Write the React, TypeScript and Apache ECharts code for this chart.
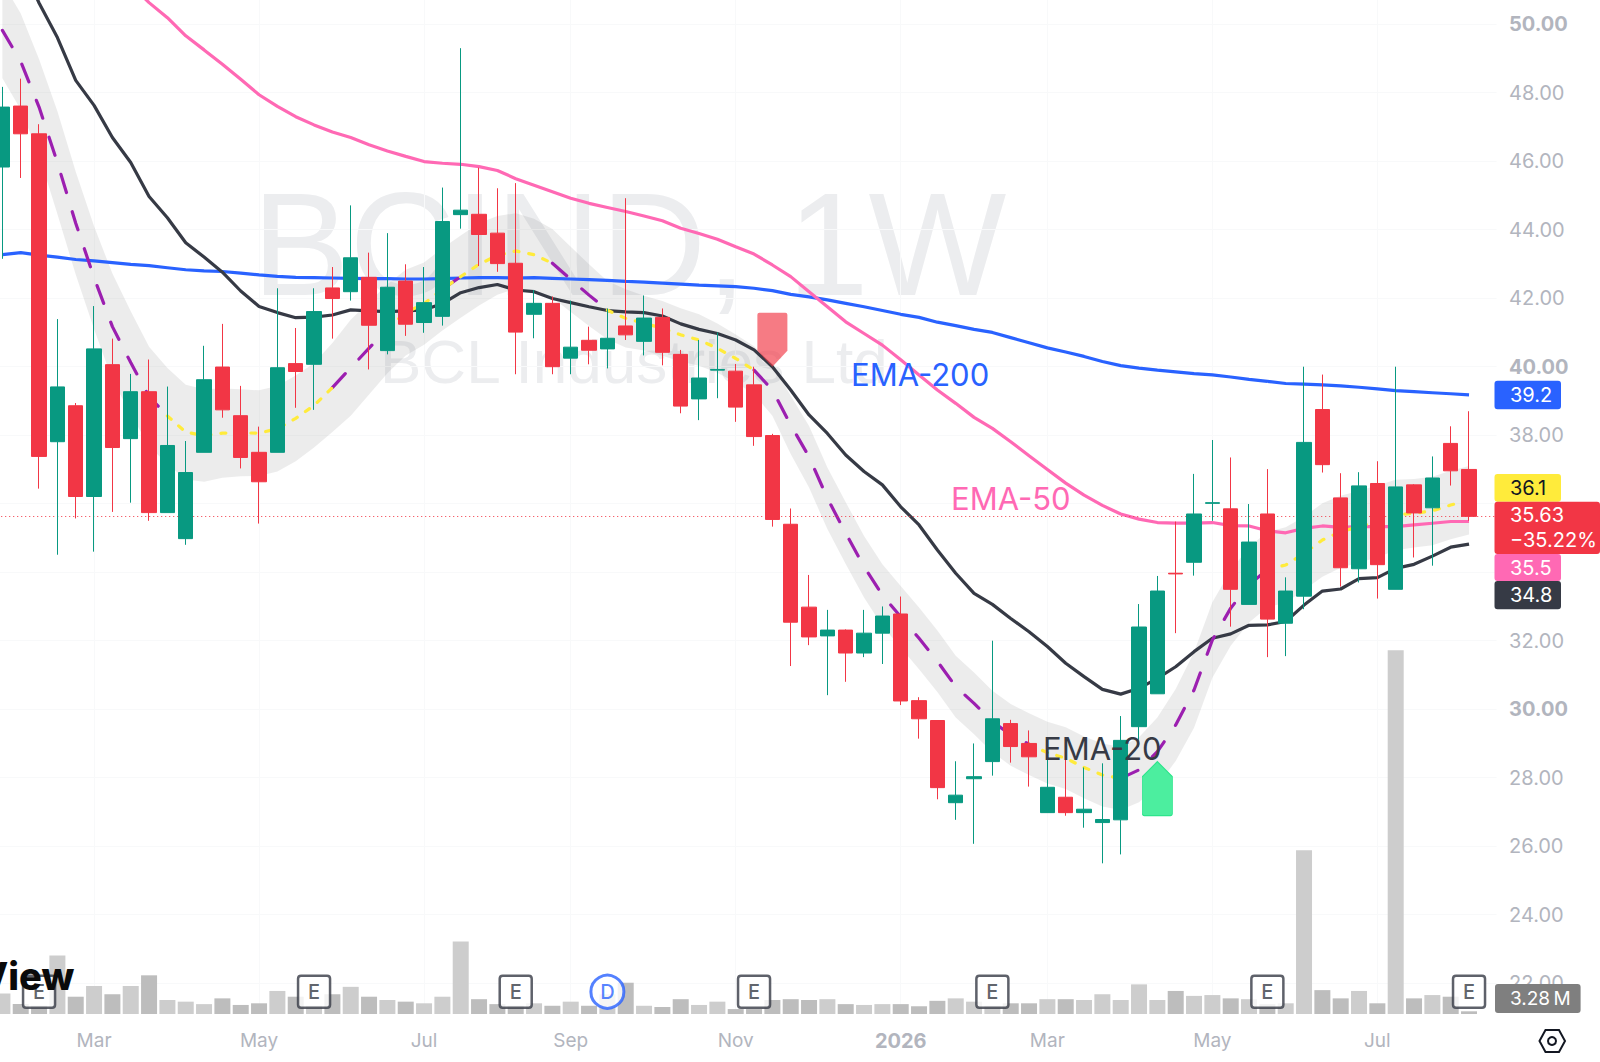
import { useEffect, useRef } from 'react';
import * as echarts from 'echarts';

// weekly candles
const opens = [45.83, 47.61, 46.80, 37.81, 38.86, 36.21, 40.06, 37.90, 39.27, 35.74, 34.98, 37.50, 39.99, 38.57, 37.50, 37.50, 40.09, 40.07, 42.30, 42.19, 42.61, 40.47, 42.50, 41.29, 41.47, 44.44, 44.45, 43.90, 43.02, 41.53, 41.85, 40.25, 40.77, 40.52, 41.19, 40.74, 41.44, 40.36, 39.06, 39.90, 39.87, 39.47, 37.99, 35.40, 32.98, 32.14, 32.31, 31.64, 32.22, 32.78, 30.25, 29.67, 27.27, 27.97, 28.47, 29.58, 29.00, 26.98, 27.43, 26.98, 26.69, 26.77, 29.49, 30.45, 33.97, 34.29, 36.01, 35.85, 33.06, 35.70, 32.51, 33.30, 38.75, 36.17, 34.10, 36.59, 33.50, 36.55, 35.88, 37.76, 37.00];
const closes = [47.58, 46.80, 37.38, 39.41, 36.21, 40.52, 37.64, 39.27, 35.74, 37.70, 36.91, 39.62, 38.74, 37.35, 36.64, 39.97, 39.86, 41.61, 41.99, 43.18, 41.21, 42.32, 41.24, 41.87, 44.24, 44.57, 43.86, 43.01, 41.01, 41.85, 40.00, 40.57, 40.48, 40.83, 40.93, 41.42, 40.42, 38.85, 39.67, 39.92, 38.82, 37.96, 35.54, 32.54, 32.11, 32.31, 31.64, 32.22, 32.72, 30.24, 29.72, 27.71, 27.49, 28.03, 29.72, 28.91, 28.61, 27.72, 26.98, 27.08, 26.78, 29.09, 32.40, 33.45, 33.95, 35.70, 36.03, 33.50, 34.88, 32.63, 33.45, 37.79, 37.14, 34.13, 36.52, 34.22, 36.49, 35.73, 36.75, 36.96, 35.63];
const lows = [43.15, 45.51, 36.44, 34.51, 35.57, 34.60, 35.76, 36.03, 35.50, 35.74, 34.80, 37.50, 38.51, 37.03, 35.42, 37.50, 38.80, 38.74, 40.82, 41.93, 39.92, 40.36, 40.90, 40.99, 41.20, 44.03, 42.94, 42.77, 39.78, 40.83, 39.78, 39.78, 40.07, 39.95, 40.78, 40.33, 40.04, 38.64, 38.44, 39.08, 38.39, 37.69, 35.33, 31.26, 31.87, 30.41, 30.80, 31.52, 31.32, 30.12, 29.14, 27.37, 26.77, 26.07, 28.06, 28.44, 27.74, 26.98, 26.89, 26.54, 25.50, 25.76, 28.90, 30.45, 32.22, 33.90, 35.50, 32.41, 33.06, 31.52, 31.55, 32.92, 36.91, 33.58, 33.70, 33.23, 33.50, 34.43, 34.19, 36.53, 35.50];
const highs = [48.17, 48.41, 47.08, 41.39, 38.94, 41.77, 40.82, 39.79, 40.21, 39.42, 37.83, 40.61, 41.25, 39.44, 38.25, 42.29, 41.13, 42.29, 42.91, 44.71, 43.33, 43.90, 42.99, 42.91, 45.23, 49.30, 45.81, 45.21, 45.36, 42.24, 42.05, 41.93, 41.17, 41.70, 44.92, 42.08, 41.70, 40.49, 40.78, 41.00, 40.08, 40.00, 38.04, 35.86, 33.92, 32.90, 32.33, 32.90, 33.00, 33.29, 30.35, 29.67, 28.48, 29.00, 32.00, 29.69, 29.38, 28.96, 28.81, 28.30, 28.42, 29.80, 33.07, 33.89, 35.48, 36.87, 37.86, 37.35, 35.99, 37.01, 33.85, 40.00, 39.77, 36.89, 36.92, 37.24, 40.00, 36.57, 37.38, 38.26, 38.70];

// volume in millions
const volumes = [25, 12, 10, 71, 21, 34, 24, 34, 47, 17, 15, 12, 19, 11, 13, 28, 21, 10, 24, 33, 21, 17, 15, 13, 21, 88, 18, 12, 10, 13, 10, 15, 10, 24, 38, 10, 8.5, 18, 11, 15, 6, 6, 17, 18, 17, 18, 12, 11, 12, 12, 9.4, 16, 19, 15, 10, 13, 13, 18, 18, 17, 24, 17, 36, 17, 28, 22, 23, 19, 18, 12, 13, 199, 29, 19, 28, 13, 442, 19, 23, 21, 3.28];

const ema200 = [43.27, 43.33, 43.26, 43.2, 43.13, 43.09, 43.04, 42.99, 42.95, 42.89, 42.83, 42.80, 42.78, 42.73, 42.68, 42.64, 42.61, 42.60, 42.59, 42.58, 42.57, 42.57, 42.56, 42.56, 42.57, 42.59, 42.60, 42.60, 42.59, 42.60, 42.58, 42.56, 42.54, 42.52, 42.49, 42.47, 42.44, 42.41, 42.38, 42.36, 42.34, 42.29, 42.22, 42.11, 42.04, 41.95, 41.85, 41.75, 41.64, 41.53, 41.44, 41.30, 41.20, 41.09, 41.00, 40.85, 40.70, 40.55, 40.43, 40.30, 40.15, 40.03, 39.96, 39.90, 39.85, 39.80, 39.76, 39.70, 39.63, 39.57, 39.51, 39.49, 39.47, 39.44, 39.40, 39.35, 39.30, 39.27, 39.24, 39.21, 39.18];
const ema50 = [55.0, 54.5, 54.0, 53.5, 53.0, 52.4, 51.8, 51.15, 50.63, 50.19, 49.66, 49.25, 48.83, 48.39, 47.94, 47.6, 47.3, 47.06, 46.85, 46.69, 46.48, 46.3, 46.14, 45.99, 45.94, 45.91, 45.84, 45.73, 45.49, 45.3, 45.11, 44.92, 44.77, 44.65, 44.53, 44.4, 44.26, 44.04, 43.89, 43.72, 43.5, 43.29, 42.97, 42.63, 42.19, 41.75, 41.31, 40.97, 40.63, 40.2, 39.76, 39.32, 38.93, 38.52, 38.2, 37.81, 37.4, 37.0, 36.6, 36.25, 35.95, 35.7, 35.55, 35.45, 35.43, 35.43, 35.45, 35.36, 35.35, 35.21, 35.15, 35.28, 35.35, 35.31, 35.33, 35.33, 35.33, 35.38, 35.43, 35.48, 35.48];
const ema20 = [53.0, 51.8, 50.62, 49.61, 48.36, 47.63, 46.69, 45.96, 44.97, 44.35, 43.62, 43.2, 42.76, 42.21, 41.76, 41.58, 41.43, 41.45, 41.51, 41.66, 41.63, 41.61, 41.63, 41.66, 41.84, 42.16, 42.31, 42.4, 42.24, 42.19, 41.99, 41.87, 41.75, 41.64, 41.6, 41.58, 41.48, 41.25, 41.09, 40.97, 40.78, 40.49, 40.0, 39.32, 38.59, 38.05, 37.42, 36.94, 36.55, 35.91, 35.38, 34.65, 33.97, 33.38, 33.06, 32.65, 32.26, 31.83, 31.34, 30.95, 30.58, 30.44, 30.61, 30.9, 31.24, 31.68, 32.07, 32.2, 32.45, 32.46, 32.56, 33.04, 33.45, 33.51, 33.81, 33.84, 34.11, 34.23, 34.47, 34.73, 34.82];
const ema10 = [49.82, 48.91, 47.58, 45.96, 44.19, 42.6, 41.17, 40.12, 39.13, 38.56, 38.09, 37.99, 38.06, 38.07, 38.06, 38.19, 38.49, 38.87, 39.39, 39.97, 40.54, 41.11, 41.58, 41.84, 42.26, 42.63, 42.99, 43.25, 43.38, 43.27, 43.02, 42.55, 42.09, 41.65, 41.41, 41.27, 41.12, 40.93, 40.78, 40.54, 40.24, 39.9, 39.32, 38.3, 37.37, 36.16, 35.14, 34.16, 33.33, 32.7, 32.07, 31.4, 30.66, 30.17, 29.64, 29.25, 28.98, 28.73, 28.57, 28.3, 28.08, 27.98, 28.23, 28.76, 29.54, 30.56, 32.02, 32.95, 33.63, 34.08, 34.21, 34.55, 34.94, 35.18, 35.33, 35.48, 35.67, 35.72, 35.79, 35.96, 36.1];
// half height of the grey band round the short EMA
const bandHalf = [1.4, 1.4, 1.4, 1.5, 1.5, 1.5, 1.55, 1.5, 1.45, 1.4, 1.38, 1.35, 1.3, 1.27, 1.25, 1.25, 1.25, 1.23, 1.3, 1.4, 1.35, 1.3, 1.25, 1.2, 1.2, 1.2, 1.2, 1.15, 1.1, 1.05, 1.0, 0.95, 0.9, 0.85, 0.85, 0.8, 0.8, 0.78, 0.75, 0.72, 0.7, 0.7, 0.75, 0.85, 0.9, 0.9, 0.9, 0.9, 0.9, 0.9, 0.9, 0.9, 0.9, 0.9, 0.9, 0.9, 0.9, 0.9, 0.9, 0.9, 0.92, 0.92, 0.95, 1.0, 1.05, 1.1, 1.1, 1.1, 1.1, 1.1, 1.1, 1.07, 1.07, 1.05, 1.05, 1.05, 1.03, 1.0, 1.0, 1.0, 1.0];

// bar ranges where the short EMA is drawn purple, yellow everywhere else
const purpleRanges = [[0, 9], [18, 21], [24, 25], [30, 33], [41, 56], [61, 69]];
const yellowRanges = [[9, 18], [21, 24], [25, 30], [33, 41], [56, 61], [69, 80]];

const monthTicks: [number, string][] = [[5, 'Mar'], [14, 'May'], [23, 'Jul'], [31, 'Sep'], [40, 'Nov'], [49, '2026'], [57, 'Mar'], [66, 'May'], [75, 'Jul']];
const earningsBars = [2, 17, 28, 41, 54, 69, 80];
const dividendBars = [33];
const sellSignals = [[42, 40.0]];
const buySignals = [[63, 28.47]];
const lastPrice = 35.63;
const hiddenPriceTicks = [20, 34, 36, 52]; // sit behind the tags or off the page

const RED = '#f23645';
const GREEN = '#089981';
const BLUE = '#2962ff';
const PINK = '#ff69b4';
const DARK = '#363a45';
const YELLOW = '#ffeb3b';
const GREY_TEXT = '#b2b5be';
const FONT = 'Inter, "Noto Sans", sans-serif';

const BAR_COUNT = 82;
const categories = Array.from({ length: BAR_COUNT }, (_, i) => {
    const tick = monthTicks.find(t => t[0] === i);
    return tick ? tick[1] : '';
});

function pickRanges(values: number[], ranges: number[][]) {
    return values.map((v, i) => (ranges.some(r => i >= r[0] && i <= r[1]) ? v : null));
}

// small tag on the price scale
function tag(y: number, h: number, right: number, color: string, text: string, textColor = '#fff', lineHeight = 0) {
    return [
        { type: 'rect', z: 50, shape: { x: 1494.5, y, width: right - 1494.5, height: h, r: 3 }, style: { fill: color } },
        {
            type: 'text',
            z: 51,
            x: 1510,
            y: y + h / 2,
            style: { text, fill: textColor, font: `400 20px ${FONT}`, textVerticalAlign: 'middle', lineHeight: lineHeight || undefined },
        },
    ];
}

export default function App() {
    const chartRef = useRef<HTMLDivElement>(null);

    useEffect(() => {
        document.body.style.margin = '0';
        if (!chartRef.current) return;
        const chart = echarts.init(chartRef.current, undefined, { renderer: 'svg' });
        const isTick = (i: number) => monthTicks.some(t => t[0] === i);

        const option = {
            animation: false,
            backgroundColor: '#ffffff',
            grid: [
                // price pane runs 20..52 so the ticks stay on multiples of 2
                { left: -6.77, top: -44.3, width: 1503.3, height: 1096, outerBoundsMode: 'none' },
                { left: -6.77, top: 0, width: 1503.3, height: 1014, outerBoundsMode: 'none' },
            ],
            xAxis: [
                { type: 'category', data: categories, gridIndex: 0, show: false },
                {
                    type: 'category',
                    data: categories,
                    gridIndex: 1,
                    axisLine: { show: false },
                    axisTick: { show: false },
                    splitLine: { show: true, alignWithLabel: true, interval: isTick, lineStyle: { color: '#f8f9fa', width: 1 } },
                    axisLabel: {
                        interval: 0,
                        margin: 17,
                        fontFamily: FONT,
                        fontSize: 19,
                        color: GREY_TEXT,
                        formatter: (v: string) => (v === '2026' ? `{b|${v}}` : v),
                        rich: { b: { fontFamily: FONT, fontSize: 20, fontWeight: 700, color: GREY_TEXT } },
                    },
                },
            ],
            yAxis: [
                {
                    type: 'value',
                    gridIndex: 0,
                    position: 'right',
                    min: 20,
                    max: 52,
                    interval: 2,
                    axisLine: { show: false },
                    axisTick: { show: false },
                    splitLine: { show: true, showMinLine: false, lineStyle: { color: '#f8f9fa', width: 1 } },
                    axisLabel: {
                        margin: 12.5,
                        align: 'left',
                        fontFamily: FONT,
                        fontSize: 20,
                        color: GREY_TEXT,
                        formatter: (v: number) => {
                            if (hiddenPriceTicks.includes(v)) return '';
                            return v % 10 === 0 ? `{b|${v.toFixed(2)}}` : v.toFixed(2);
                        },
                        rich: { b: { fontFamily: FONT, fontSize: 20, fontWeight: 700, color: GREY_TEXT } },
                    },
                },
                { type: 'value', gridIndex: 1, min: 0, max: 1232, show: false, splitLine: { show: false } },
            ],
            series: [
                {
                    type: 'bar',
                    xAxisIndex: 1,
                    yAxisIndex: 1,
                    z: 1,
                    barWidth: 16,
                    data: volumes.map((v, i) => ({
                        value: v,
                        itemStyle: { color: closes[i] >= opens[i] ? '#cdcdcd' : '#bdbdbd' },
                    })),
                },
                {
                    type: 'line',
                    stack: 'band',
                    z: 2,
                    symbol: 'none',
                    lineStyle: { opacity: 0, width: 0 },
                    data: ema10.map((v, i) => v - bandHalf[i]),
                },
                {
                    type: 'line',
                    stack: 'band',
                    z: 2,
                    symbol: 'none',
                    lineStyle: { opacity: 0, width: 0 },
                    areaStyle: { color: 'rgba(128,128,128,0.15)', opacity: 1 },
                    data: bandHalf.map(v => v * 2),
                },
                { type: 'line', z: 3, symbol: 'none', lineStyle: { color: BLUE, width: 3.2 }, data: ema200 },
                { type: 'line', z: 3, symbol: 'none', lineStyle: { color: PINK, width: 3.2 }, data: ema50 },
                { type: 'line', z: 3, symbol: 'none', lineStyle: { color: DARK, width: 3.2 }, data: ema20 },
                {
                    type: 'line',
                    z: 3,
                    symbol: 'none',
                    lineStyle: { color: '#9c1fb0', width: 3.2, type: [19, 20], cap: 'round' },
                    data: pickRanges(ema10, purpleRanges),
                },
                {
                    type: 'line',
                    z: 3,
                    symbol: 'none',
                    lineStyle: { color: YELLOW, width: 3.2, type: [5, 10], cap: 'round' },
                    data: pickRanges(ema10, yellowRanges),
                },
                {
                    type: 'scatter',
                    xAxisIndex: 1,
                    yAxisIndex: 1,
                    z: 4,
                    symbol: 'path://M3 0 L29 0 Q32 0 32 3 L32 29 Q32 32 29 32 L3 32 Q0 32 0 29 L0 3 Q0 0 3 0 Z',
                    symbolSize: 32,
                    itemStyle: { color: '#ffffff', borderColor: DARK, borderWidth: 2.5 },
                    label: { show: true, position: 'inside', formatter: 'E', fontFamily: FONT, fontSize: 20, fontWeight: 500, color: DARK },
                    data: earningsBars.map(i => [i, 27]),
                },
                {
                    type: 'scatter',
                    xAxisIndex: 1,
                    yAxisIndex: 1,
                    z: 4,
                    symbol: 'circle',
                    symbolSize: 33,
                    itemStyle: { color: '#ffffff', borderColor: BLUE, borderWidth: 3 },
                    label: { show: true, position: 'inside', formatter: 'D', fontFamily: FONT, fontSize: 20, fontWeight: 500, color: BLUE },
                    data: dividendBars.map(i => [i, 27]),
                },
                {
                    type: 'candlestick',
                    z: 5,
                    barWidth: 15,
                    itemStyle: { color: GREEN, color0: RED, borderColor: GREEN, borderColor0: RED, borderWidth: 1 },
                    data: opens.map((o, i) => [o, closes[i], lows[i], highs[i]]),
                    markLine: {
                        silent: true,
                        symbol: 'none',
                        label: { show: false },
                        lineStyle: { color: RED, width: 1, type: [1, 3] },
                        data: [{ yAxis: lastPrice }],
                    },
                },
                {
                    type: 'scatter',
                    z: 6,
                    symbol: 'path://M2 0 L28 0 Q30 0 30 2 L30 38 L15 54 L0 38 L0 2 Q0 0 2 0 Z',
                    symbolSize: [30, 54],
                    symbolOffset: [0, -27],
                    itemStyle: { color: 'rgba(242,54,69,0.66)', opacity: 1 },
                    data: sellSignals,
                },
                {
                    type: 'scatter',
                    z: 6,
                    symbol: 'path://M15 0 L30 15 L30 52 Q30 54 28 54 L2 54 Q0 54 0 52 L0 15 Z',
                    symbolSize: [30, 54],
                    symbolOffset: [0, 27],
                    itemStyle: { color: '#4cee9f', borderColor: '#2ee58c', borderWidth: 1, opacity: 1 },
                    data: buySignals,
                },
            ],
            graphic: [
                { type: 'text', z: 0, x: 252, y: 244, style: { text: 'BCIND, 1W', fill: '#ecedef', font: `400 146px "Liberation Sans", sans-serif`, textVerticalAlign: 'middle' } },
                { type: 'text', z: 0, x: 380, y: 361, style: { text: 'BCL Industries Ltd', fill: '#ecedef', font: `400 62px "Liberation Sans", sans-serif`, textVerticalAlign: 'middle' } },
                { type: 'text', z: 40, x: 851, y: 374.5, style: { text: 'EMA-200', fill: BLUE, font: `400 31px ${FONT}`, textVerticalAlign: 'middle' } },
                { type: 'text', z: 40, x: 951, y: 498, style: { text: 'EMA-50', fill: PINK, font: `400 31px ${FONT}`, textVerticalAlign: 'middle' } },
                { type: 'text', z: 40, x: 1043, y: 748, style: { text: 'EMA-20', fill: DARK, font: `400 31px ${FONT}`, textVerticalAlign: 'middle' } },
                { type: 'text', z: 40, x: -21, y: 976, style: { text: 'View', fill: '#0a0a0a', font: `800 38px ${FONT}`, textVerticalAlign: 'middle' } },
                ...tag(380.7, 28.6, 1561, BLUE, '39.2'),
                ...tag(474, 27.7, 1561, YELLOW, '36.1', '#131722'),
                ...tag(501.7, 52.3, 1600, RED, '35.63\n\u221235.22%', '#fff', 25),
                ...tag(554, 27, 1561, PINK, '35.5'),
                ...tag(581, 28.3, 1561, DARK, '34.8'),
                { type: 'rect', z: 50, shape: { x: 1495, y: 984, width: 85.6, height: 29, r: 3 }, style: { fill: '#7f7f7f' } },
                { type: 'text', z: 51, x: 1510, y: 998.5, style: { text: '3.28\u2009M', fill: '#fff', font: `400 19px ${FONT}`, textVerticalAlign: 'middle' } },
                {
                    type: 'polygon',
                    z: 50,
                    shape: { points: [[1539.5, 1041], [1545.5, 1030], [1559, 1030], [1565, 1041], [1559, 1052], [1545.5, 1052]] },
                    style: { fill: '#ffffff', stroke: '#131722', lineWidth: 2 },
                },
                { type: 'circle', z: 51, shape: { cx: 1552, cy: 1041, r: 4 }, style: { fill: '#ffffff', stroke: '#131722', lineWidth: 2 } },
            ],
        };
        chart.setOption(option as any);

        return () => chart.dispose();
    }, []);

    return <div ref={chartRef} style={{ width: '1600px', height: '1062px' }}></div>;
}
